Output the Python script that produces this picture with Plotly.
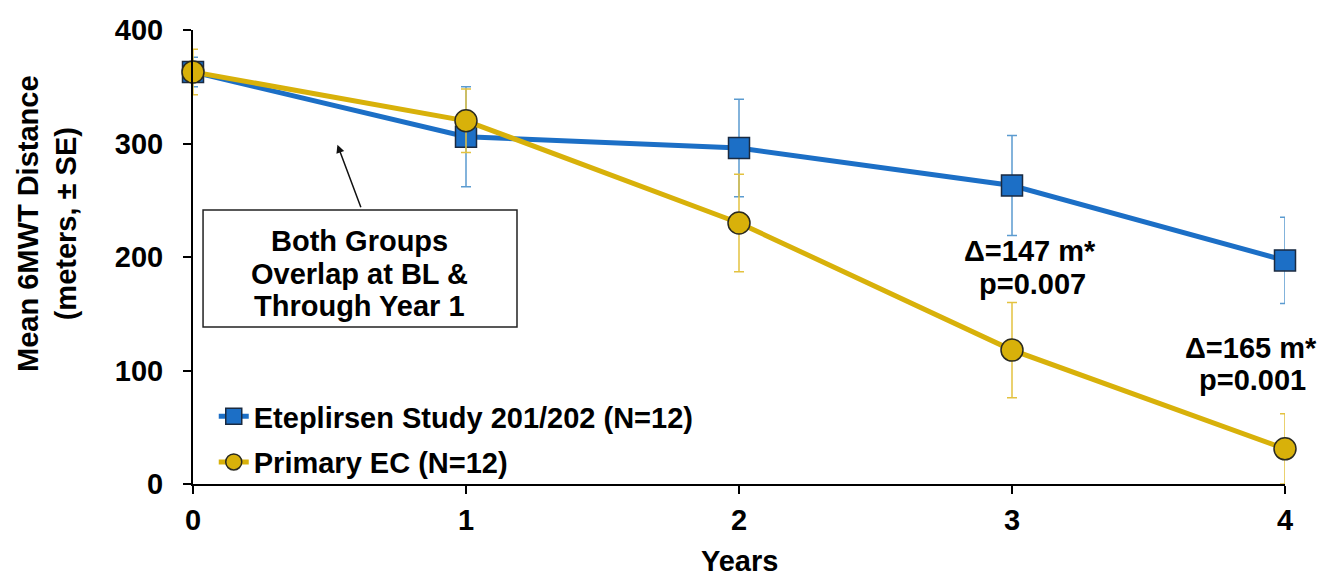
import plotly.graph_objects as go

years = [0, 1, 2, 3, 4]
etep_mean = [363, 306, 296, 263, 197]
etep_se = [13, 44, 43, 44, 38]
ec_mean = [363, 320, 230, 118, 31]
ec_se = [20, 28, 43, 42, 31]

x_ticks = [0, 1, 2, 3, 4]
y_ticks = [0, 100, 200, 300, 400]

BLUE = "#1c6fc6"
BLUE_ERR = "#5b9bd0"
GOLD = "#d8b10a"
GOLD_ERR = "#e3c240"
FONT = "Liberation Sans, Arial, sans-serif"
FS = 29


def bold(size=FS):
    return dict(size=size, color="black", family=FONT, weight="bold")


fig = go.Figure()
fig.add_trace(go.Scatter(
    x=years, y=etep_mean, mode="lines+markers",
    name="Eteplirsen Study 201/202 (N=12)", legendgroup="a",
    line=dict(color=BLUE, width=5),
    marker=dict(symbol="square", size=21, color=BLUE, line=dict(color="#1a2a40", width=1.5)),
    error_y=dict(type="data", array=etep_se, color=BLUE_ERR, thickness=1.5, width=5),
    cliponaxis=False,
))
fig.add_trace(go.Scatter(
    x=years, y=ec_mean, mode="lines+markers",
    name="Primary EC (N=12)", legendgroup="b",
    line=dict(color=GOLD, width=5),
    marker=dict(symbol="circle", size=22, color=GOLD, line=dict(color="#2a2a20", width=1.5)),
    error_y=dict(type="data", array=ec_se, color=GOLD_ERR, thickness=1.5, width=5),
    cliponaxis=False,
))

# annotation box
fig.add_shape(type="rect", xref="paper", yref="paper",
              x0=0.0092, x1=0.2967, y0=0.3458, y1=0.6035,
              line=dict(color="#222222", width=1.5), fillcolor="white", layer="below")
box_lines = ["Both Groups", "Overlap at BL &", "Through Year 1"]
box_y = [0.5352, 0.4626, 0.3910]
for t, yy in zip(box_lines, box_y):
    fig.add_annotation(xref="paper", yref="paper", x=0.1529, y=yy,
                       xanchor="center", yanchor="middle", text=t,
                       showarrow=False, font=bold())
fig.add_annotation(x=0.529, y=299, xref="x", yref="y", text="",
                   showarrow=True, arrowhead=2, arrowsize=1.1, arrowwidth=1.5,
                   arrowcolor="#111111", ax=24, ay=64, axref="pixel", ayref="pixel")

# difference labels
fig.add_annotation(x=3.066, y=205, xref="x", yref="y", text="Δ=147 m*",
                   showarrow=False, xanchor="center", yanchor="middle", font=bold())
fig.add_annotation(x=3.075, y=176, xref="x", yref="y", text="p=0.007",
                   showarrow=False, xanchor="center", yanchor="middle", font=bold())
fig.add_annotation(x=3.875, y=120, xref="x", yref="y", text="Δ=165 m*",
                   showarrow=False, xanchor="center", yanchor="middle", font=bold())
fig.add_annotation(x=3.88, y=92, xref="x", yref="y", text="p=0.001",
                   showarrow=False, xanchor="center", yanchor="middle", font=bold())

# axis titles
fig.add_annotation(xref="paper", yref="paper", x=-0.1337, y=0.575,
                   xanchor="center", yanchor="middle",
                   text="Mean 6MWT Distance<br>(meters, ± SE)", textangle=-90,
                   showarrow=False, align="center", font=bold())
fig.add_annotation(xref="paper", yref="paper", x=0.5, y=-0.1696,
                   xanchor="center", yanchor="middle", text="Years",
                   showarrow=False, font=bold())

fig.update_layout(
    width=1319, height=578,
    margin=dict(l=193, r=34, t=30, b=94, autoexpand=False),
    paper_bgcolor="white", plot_bgcolor="white",
    font=dict(family=FONT, size=FS, color="black", weight="bold"),
    showlegend=True,
    legend=dict(x=0.019, y=0.205, xanchor="left", yanchor="top",
                bgcolor="rgba(0,0,0,0)", font=bold(),
                itemwidth=30, tracegroupgap=5),
)
fig.update_xaxes(range=[0, 4], tickvals=x_ticks, showgrid=False, zeroline=False,
                 showline=True, linecolor="black", linewidth=2, automargin=False,
                 ticks="outside", ticklen=8, tickwidth=2, tickcolor="black",
                 tickfont=bold(), ticklabelstandoff=1)
fig.update_yaxes(range=[0, 400], tickvals=y_ticks, showgrid=False, zeroline=False,
                 showline=True, linecolor="black", linewidth=2, automargin=False,
                 ticks="outside", ticklen=8, tickwidth=2, tickcolor="black",
                 tickfont=bold(), ticklabelstandoff=14)

fig.write_html("out.html")
